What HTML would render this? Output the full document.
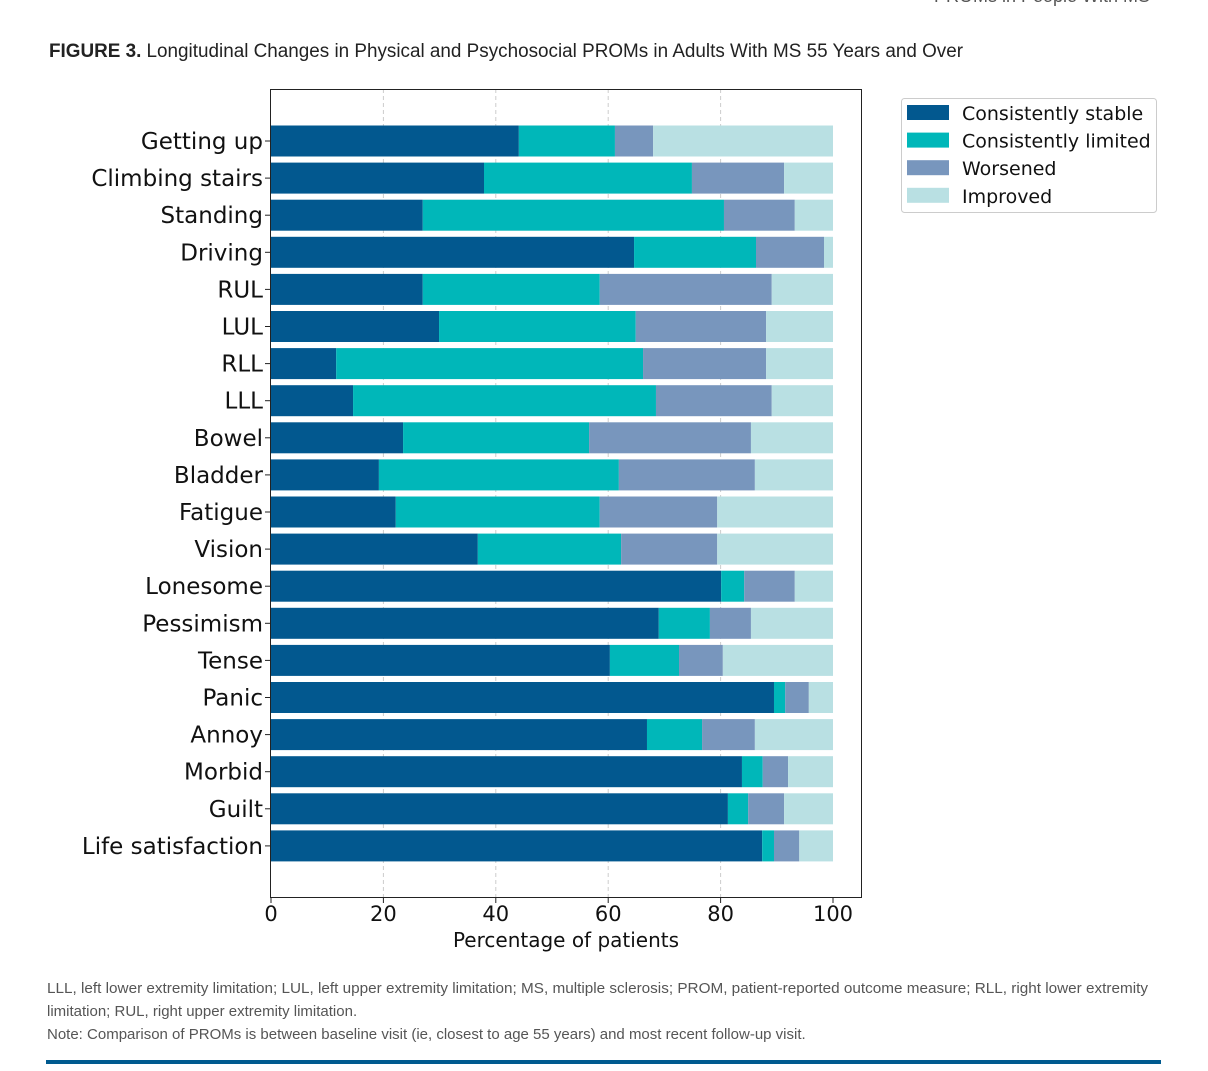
<!DOCTYPE html>
<html><head><meta charset="utf-8"><style>
body{margin:0;width:1208px;height:1066px;background:#fff;overflow:hidden;font-family:"Liberation Sans",sans-serif;}
</style></head><body>
<svg id="chart" width="1208" height="1066" xmlns="http://www.w3.org/2000/svg" font-family="'DejaVu Sans','Liberation Sans',sans-serif">
<text x="1150" y="2" text-anchor="end" font-size="18" fill="#555" font-family="'Liberation Sans Narrow','Liberation Sans',sans-serif">PROMs in People With MS</text>
<text x="49" y="57" font-size="19" fill="#222" textLength="914" lengthAdjust="spacingAndGlyphs" font-family="'Liberation Sans Narrow','Liberation Sans',sans-serif"><tspan font-weight="bold">FIGURE 3.</tspan> Longitudinal Changes in Physical and Psychosocial PROMs in Adults With MS 55 Years and Over</text>
<g id="grid"></g>
<g id="bars"></g>
<rect x="270.5" y="89.5" width="591" height="808" fill="none" stroke="#222" stroke-width="1"/>
<g id="ylabels"></g>
<g id="xticks"></g>
<text x="566" y="947" text-anchor="middle" font-size="20" fill="#111">Percentage of patients</text>
<g id="legend">
<rect x="901.5" y="98.5" width="255" height="114" rx="3" fill="#fff" stroke="#ccc"/>
</g>
<g font-size="15" fill="#555" font-family="'Liberation Sans Narrow','Liberation Sans',sans-serif">
<text x="47" y="993" textLength="1101" lengthAdjust="spacingAndGlyphs">LLL, left lower extremity limitation; LUL, left upper extremity limitation; MS, multiple sclerosis; PROM, patient-reported outcome measure; RLL, right lower extremity</text>
<text x="47" y="1016">limitation; RUL, right upper extremity limitation.</text>
<text x="47" y="1039">Note: Comparison of PROMs is between baseline visit (ie, closest to age 55 years) and most recent follow-up visit.</text>
</g>
<rect x="46" y="1060" width="1115" height="4" fill="#005a8f"/>
</svg>
<script>
const categories=["Getting up","Climbing stairs","Standing","Driving","RUL","LUL","RLL","LLL","Bowel","Bladder","Fatigue","Vision","Lonesome","Pessimism","Tense","Panic","Annoy","Morbid","Guilt","Life satisfaction"];
const stable=[44.1,37.9,27.0,64.6,27.0,29.9,11.6,14.6,23.5,19.2,22.2,36.8,80.1,69.0,60.3,89.5,66.9,83.8,81.3,87.4];
const limited=[17.1,37.0,53.6,21.7,31.5,35.0,54.6,53.9,33.1,42.7,36.3,25.5,4.1,9.1,12.3,2.0,9.8,3.7,3.6,2.1];
const worsened=[6.8,16.4,12.6,12.1,30.6,23.2,21.9,20.6,28.8,24.2,20.9,17.1,9.0,7.3,7.8,4.2,9.4,4.5,6.4,4.5];
const improved=[32.0,8.7,6.8,1.6,10.9,11.9,11.9,10.9,14.6,13.9,20.6,20.6,6.8,14.6,19.6,4.3,13.9,8.0,8.7,6.0];
const seriesNames=["Consistently stable","Consistently limited","Worsened","Improved"];
const colors=["#02588f","#00b7b9","#7896bd","#b9e0e3"];
const xTicks=[0,20,40,60,80,100];
const NS="http://www.w3.org/2000/svg";
const x=v=>271+v*5.62;
const y=i=>141+i*37.1;
const barH=31;
function mk(tag,attrs,parent){const e=document.createElementNS(NS,tag);for(const k in attrs)e.setAttribute(k,attrs[k]);parent.appendChild(e);return e;}
const grid=document.getElementById('grid'),bars=document.getElementById('bars'),yl=document.getElementById('ylabels'),xt=document.getElementById('xticks'),lg=document.getElementById('legend');
xTicks.forEach(t=>{
  if(t>0&&t<100){const l=mk('line',{x1:x(t),x2:x(t),y1:89,y2:897,stroke:'#ccc','stroke-dasharray':'4,3'},grid);
  
  }
  const tk=mk('line',{x1:x(t),x2:x(t),y1:897,y2:903,stroke:'#222'},xt);
  
  
  const tx=mk('text',{x:x(t),y:921,'text-anchor':'middle','font-size':21,fill:'#111'},xt);
  
  
  tx.textContent=t;
});
const series=[stable,limited,worsened,improved];
categories.forEach((c,i)=>{
  let acc=0;
  series.forEach((s,k)=>{
    const r=mk('rect',{x:x(acc),y:y(i)-barH/2,width:x(acc+s[i])-x(acc),height:barH,fill:colors[k]},bars);
    
    
    acc+=s[i];
  });
  const tk=mk('line',{x1:265,x2:271,y1:y(i),y2:y(i),stroke:'#222'},yl);
  
  
  const t=mk('text',{x:263,y:y(i)+8,'text-anchor':'end','font-size':23,fill:'#111'},yl);
  
  
  t.textContent=c;
});
seriesNames.forEach((n,k)=>{
  const yy=113+k*27.6;
  const r=mk('rect',{x:907,y:yy-8,width:42,height:15,fill:colors[k]},lg);
  
  
  const t=mk('text',{x:962,y:yy+7,'font-size':19,fill:'#111'},lg);
  
  
  t.textContent=n;
});
</script>
</body></html>
